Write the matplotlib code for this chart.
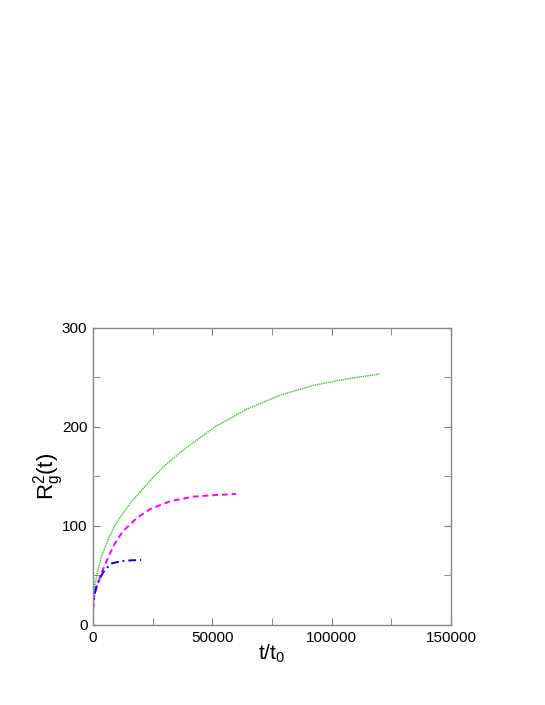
import matplotlib
matplotlib.use("Agg")
import matplotlib.pyplot as plt
from matplotlib.ticker import MultipleLocator

plt.rcParams['font.family'] = ['Liberation Sans', 'DejaVu Sans']
plt.rcParams['mathtext.fontset'] = 'custom'
plt.rcParams['mathtext.rm'] = 'Liberation Sans'
plt.rcParams['mathtext.it'] = 'Liberation Sans'

# Green (dotted) series
t_green = [0, 200, 700, 1400, 3500, 6300, 9000, 12000, 16000, 24000, 30000, 38000,
           51000, 64400, 78300, 92300, 106300, 120000]
r_green = [18, 30, 38, 48, 69, 86, 100, 111, 124, 146, 161, 177,
           200, 218, 232, 242, 248.5, 253.5]

# Magenta (dashed) series
t_mag = [0, 200, 700, 2100, 3500, 6300, 9100, 12300, 18300, 23900, 32300, 42000, 51650, 60000]
r_mag = [15, 24, 32, 42, 52, 68, 82, 94, 108, 117, 125, 129.6, 131.3, 132.3]

# Blue (dash-dot) series
t_blue = [0, 100, 300, 700, 1400, 2800, 4900, 7700, 11900, 16000, 20200]
r_blue = [14, 18, 25, 31, 38.7, 47, 55.5, 62, 64.6, 65.3, 65.7]

fig = plt.figure(figsize=(5.45, 7.05), dpi=100)
ax = fig.add_axes([0.1706, 0.1135, 0.657, 0.4213])

ax.plot(t_green, r_green, color='#44bb33', linestyle=(0, (1, 0.6)), linewidth=1.0)
ax.plot(t_mag, r_mag, color='#ff00ff', linestyle=(0, (3, 2)), linewidth=1.4)
ax.plot(t_blue, r_blue, color='#0000ff', linestyle=(0, (4, 2, 1, 2)), linewidth=1.4)

ax.set_xlim(0, 150000)
ax.set_ylim(0, 300)
ax.xaxis.set_major_locator(MultipleLocator(50000))
ax.xaxis.set_minor_locator(MultipleLocator(25000))
ax.yaxis.set_major_locator(MultipleLocator(100))
ax.yaxis.set_minor_locator(MultipleLocator(50))
ax.tick_params(which='both', direction='in', top=True, right=True,
               color='#777777', labelsize=11, pad=4)
ax.tick_params(which='major', length=5)
ax.tick_params(which='minor', length=5)
for s in ax.spines.values():
    s.set_color('#888888')
    s.set_linewidth(1.0)

ax.set_xlabel(r't/t$_\mathrm{0}$', fontsize=15, labelpad=-1)
ax.set_ylabel(r'R$_\mathrm{g}^\mathrm{2}$(t)', fontsize=16, labelpad=-3)

fig.savefig('out.png', dpi=100)
